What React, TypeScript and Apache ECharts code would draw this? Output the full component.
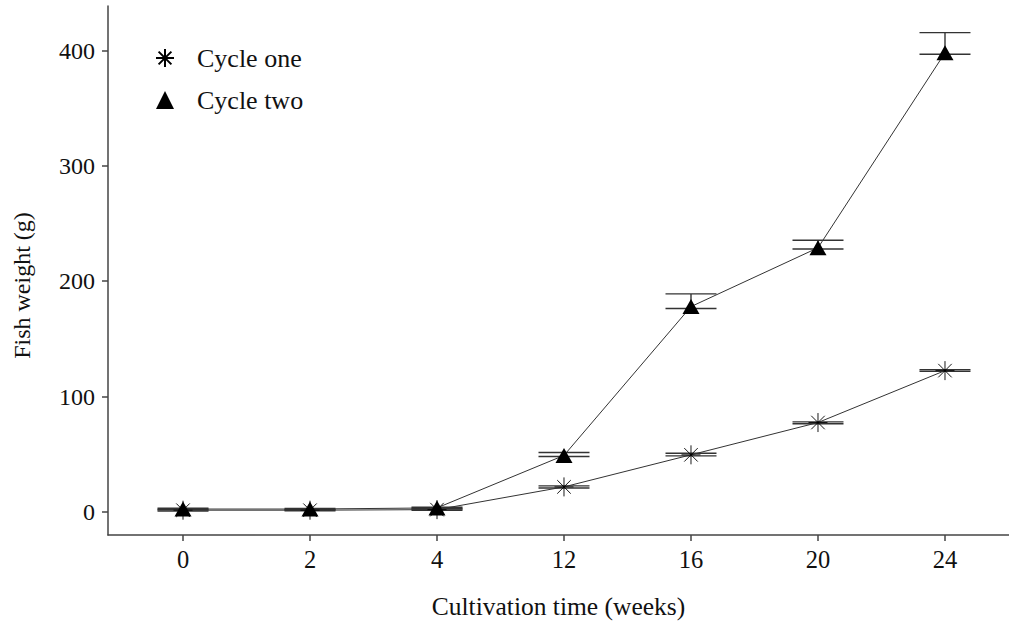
import React, { useEffect, useRef } from "react";
import * as echarts from "echarts";

const xLabels = ["0", "2", "4", "12", "16", "20", "24"];
const yTicks = [0, 100, 200, 300, 400];

const cycleOneMean = [1.5, 1.5, 2, 21.7, 49.5, 77.5, 122.5];
const cycleOneLow = [0.8, 1, 1.5, 20.8, 48.6, 76.4, 121.9];
const cycleOneHigh = [2.2, 2, 2.5, 22.6, 50.9, 78.1, 123.4];

const cycleTwoMean = [2.5, 2.5, 3.5, 49, 178, 229, 398];
const cycleTwoLow = [1.8, 2, 3, 48, 176.4, 228, 396.8];
const cycleTwoHigh = [3.2, 3, 4, 51.5, 189, 235.5, 415.5];

const FONT = "'Liberation Serif', 'Times New Roman', serif";
const ASTERISK =
  "path://M9,0L9,18M0,9L18,9M2.6,2.6L15.4,15.4M15.4,2.6L2.6,15.4";

function errorSeries(name: string, low: number[], high: number[]) {
  return {
    type: "custom",
    name: name + " err",
    z: 3,
    silent: true,
    data: low.map((l, i) => [i, l, high[i]]),
    renderItem: (params: any, api: any) => {
      const x = api.value(0);
      const lo = api.coord([x, api.value(1)]);
      const hi = api.coord([x, api.value(2)]);
      const hw = 25.5;
      const style = { stroke: "#333", lineWidth: 1.4 };
      return {
        type: "group",
        children: [
          { type: "line", shape: { x1: lo[0], y1: lo[1], x2: hi[0], y2: hi[1] }, style },
          { type: "line", shape: { x1: lo[0] - hw, y1: lo[1], x2: lo[0] + hw, y2: lo[1] }, style },
          { type: "line", shape: { x1: hi[0] - hw, y1: hi[1], x2: hi[0] + hw, y2: hi[1] }, style },
        ],
      };
    },
  };
}

export default function App() {
  const ref = useRef<HTMLDivElement>(null);
  useEffect(() => {
    if (!ref.current) return;
    const chart = echarts.init(ref.current, null, { renderer: "svg" });
    const idx = xLabels.map((_, i) => i);
    chart.setOption({
      animation: false,
      backgroundColor: "#fff",
      textStyle: { fontFamily: FONT, color: "#111" },
      grid: { left: 108, right: 0, top: 6, bottom: 89, containLabel: false, outerBoundsMode: "none" },
      legend: {
        orient: "vertical",
        left: 155,
        top: 44,
        padding: 0,
        itemWidth: 18,
        itemHeight: 18,
        itemGap: 14,
        textStyle: { fontFamily: FONT, fontSize: 26, lineHeight: 28, color: "#111", padding: [0, 0, 0, 18] },
        data: [
          { name: "Cycle one", icon: ASTERISK },
          { name: "Cycle two", icon: "triangle" },
        ],
      },
      xAxis: {
        type: "value",
        min: -0.5906,
        max: 6.504,
        name: "Cultivation time (weeks)",
        nameLocation: "middle",
        nameGap: 58,
        nameTextStyle: { fontFamily: FONT, fontSize: 25.5, color: "#111" },
        axisLine: { show: true, onZero: false, lineStyle: { color: "#444", width: 1.5 } },
        axisTick: { show: true, length: 6, customValues: idx, lineStyle: { color: "#444", width: 1.5 } },
        axisLabel: {
          customValues: idx,
          margin: 12,
          fontFamily: FONT,
          fontSize: 24.5,
          color: "#111",
          formatter: (v: number) => xLabels[Math.round(v)],
        },
        splitLine: { show: false },
      },
      yAxis: {
        type: "value",
        min: -20,
        max: 438.6,
        name: "Fish weight (g)",
        nameLocation: "middle",
        nameGap: 74,
        nameRotate: 90,
        nameTextStyle: { fontFamily: FONT, fontSize: 24, color: "#111", padding: [0, 30, 0, 0] },
        axisLine: { show: true, onZero: false, lineStyle: { color: "#444", width: 1.5 } },
        axisTick: { show: true, length: 6, customValues: yTicks, lineStyle: { color: "#444", width: 1.5 } },
        axisLabel: { customValues: yTicks, margin: 13, fontFamily: FONT, fontSize: 24, color: "#111" },
        splitLine: { show: false },
      },
      series: [
        errorSeries("Cycle one", cycleOneLow, cycleOneHigh),
        errorSeries("Cycle two", cycleTwoLow, cycleTwoHigh),
        {
          type: "line",
          name: "Cycle one",
          z: 4,
          data: cycleOneMean.map((v, i) => [i, v]),
          symbol: ASTERISK,
          symbolSize: 19,
          itemStyle: { color: "#000", borderColor: "#000", borderWidth: 0.9 },
          lineStyle: { color: "#333", width: 1 },
        },
        {
          type: "line",
          name: "Cycle two",
          z: 4,
          data: cycleTwoMean.map((v, i) => [i, v]),
          symbol: "triangle",
          symbolSize: [17, 15],
          itemStyle: { color: "#000", borderWidth: 0 },
          lineStyle: { color: "#333", width: 1 },
        },
      ],
    });
    return () => chart.dispose();
  }, []);
  return (
    <div
      ref={ref}
      style={{ position: "absolute", left: 0, top: 0, width: 1009, height: 624, background: "#fff" }}
    />
  );
}
